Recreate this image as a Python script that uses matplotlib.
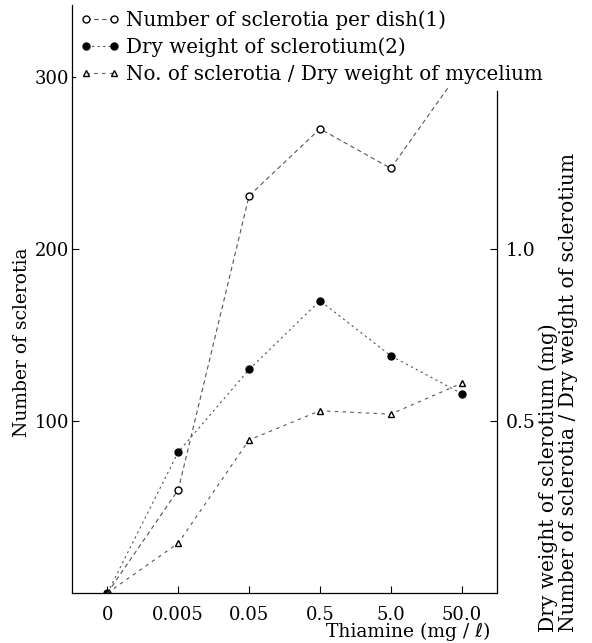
import matplotlib
matplotlib.use("Agg")
import matplotlib.pyplot as plt

# thiamine levels (categorical x axis)
thiamine = ["0", "0.005", "0.05", "0.5", "5.0", "50.0"]

# values
sclerotia_per_dish = [0, 60, 231, 270, 247, 305]      # left axis
dry_weight_sclerotium = [0, 0.41, 0.65, 0.85, 0.69, 0.58]  # right axis (mg)
sclerotia_per_mycelium = [0, 0.145, 0.445, 0.53, 0.52, 0.61]  # right axis

plt.rcParams['font.family'] = ['DejaVu Serif', 'DejaVu Sans']
plt.rcParams['font.size'] = 13

fig = plt.figure(figsize=(5.92, 6.43), dpi=100)
ax = fig.add_axes([72/592, 1 - 593/643, 425/592, 588/643])
ax2 = ax.twinx()

x = list(range(len(thiamine)))
ink = "#555555"

# series 1 - open circles, last marker hidden under the legend text
l1, = ax.plot(x, sclerotia_per_dish, color=ink, lw=0.8, ls=(0, (4, 3)),
              marker="o", mfc="white", mec="black", ms=5, mew=1,
              markevery=[1, 2, 3, 4], zorder=3)
l2, = ax2.plot(x, dry_weight_sclerotium, color=ink, lw=0.8, ls=(0, (2, 3)),
               marker="o", mfc="black", mec="black", ms=5, zorder=3)
l3, = ax2.plot(x, sclerotia_per_mycelium, color=ink, lw=0.8, ls=(0, (3, 4)),
               marker="^", mfc="white", mec="black", ms=5, mew=1,
               markevery=[1, 2, 3, 4, 5], zorder=3)

ax.set_xlim(-0.5, 5.5)
ax.set_ylim(0, 342)
ax2.set_ylim(0, 342 / 200)

ax.set_xticks(x)
ax.set_xticklabels(thiamine)
ax.set_yticks([100, 200, 300])
ax.set_yticklabels(["100", "200", "300"])
ax2.set_yticks([0.5, 1.0])
ax2.set_yticklabels(["0.5", "1.0"])

ax.tick_params(axis="both", direction="in", length=5, width=0.8, pad=9,
               labelsize=13)
ax.tick_params(axis="y", pad=2)
ax2.tick_params(axis="y", direction="in", length=5, width=0.8, pad=6,
                labelsize=13.5)

for s in ["top", "right"]:
    ax.spines[s].set_visible(False)
for s in ["top", "left", "bottom"]:
    ax2.spines[s].set_visible(False)
ax2.spines["right"].set_bounds(0, 1.46)
for sp in [ax.spines["left"], ax.spines["bottom"], ax2.spines["right"]]:
    sp.set_linewidth(0.9)

ax.set_ylabel("Number of sclerotia", fontsize=13.5)
ax.yaxis.set_label_coords(-0.096, (593 - 342) / 588)
fig.text(490/592, 1 - 632/643, "Thiamine (mg / ℓ)", ha="right", va="center",
         fontsize=13.5)

fig.text(548/592, 1 - 632/643, "Dry weight of sclerotium (mg)",
         rotation=90, ha="center", va="bottom", fontsize=14.5)
fig.text(569/592, 1 - 632/643, "Number of sclerotia / Dry weight of sclerotium",
         rotation=90, ha="center", va="bottom", fontsize=14.5)

leg = ax2.legend([l1, l2, l3],
                 ["Number of sclerotia per dish(1)",
                  "Dry weight of sclerotium(2)",
                  "No. of sclerotia / Dry weight of mycelium"],
                 loc="upper left", bbox_to_anchor=(76/592, 1 - 6/643),
                 bbox_transform=fig.transFigure, frameon=True,
                 framealpha=1, edgecolor="none", facecolor="white",
                 borderpad=0.2, handlelength=2.0, handletextpad=0.3,
                 labelspacing=0.4, numpoints=2, borderaxespad=0,
                 fontsize=14.3)
# legend handles show both end markers
for h in leg.legend_handles:
    h.set_markevery(None)
leg.set_zorder(10)

fig.savefig("out.png", dpi=100)
